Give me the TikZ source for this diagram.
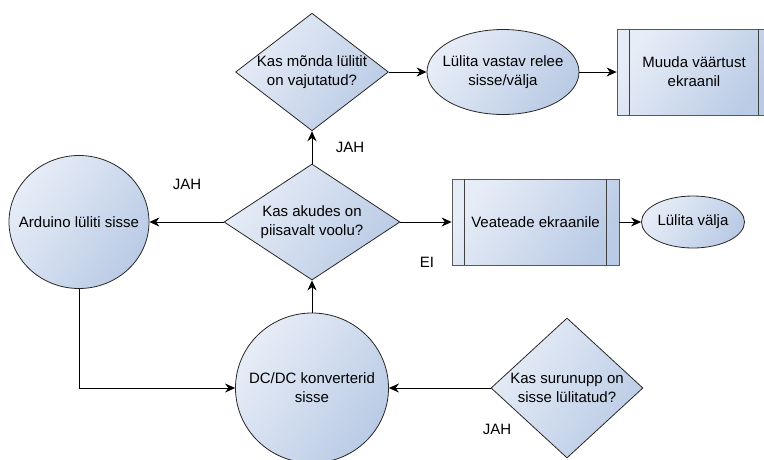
\documentclass[tikz,border=0pt]{standalone}
\usepackage{fontspec}
\setmainfont{Liberation Sans}
\usetikzlibrary{shapes.geometric,arrows.meta}

\definecolor{fillLight}{RGB}{231,237,247}
\definecolor{fillDark}{RGB}{186,203,229}
\definecolor{lineGray}{RGB}{40,40,40}

\begin{document}
\begin{tikzpicture}[x=1pt, y=-1pt, font=\fontsize{15}{19}\selectfont,
	every node/.style={align=center},
	shapebox/.style={draw=lineGray, line width=0.8pt, top color=fillLight, bottom color=fillDark, shading angle=55, inner sep=0pt},
	decision/.style={shapebox, diamond},
	roundbox/.style={shapebox, ellipse, inner xsep=-14pt},
	procbox/.style={shapebox, rectangle, draw=black!65},
	flow/.style={-{Stealth[length=10pt,width=9pt]}, line width=0.9pt}]

	\useasboundingbox (0,0) rectangle (764,459);

	%% The decisions
	\node[decision, aspect=1.3, minimum width=151pt, minimum height=117pt] (q-switch) at (312,72) {Kas mõnda lülitit\\on vajutatud?};
	\node[decision, aspect=1.5, minimum width=176pt, minimum height=116pt] (q-charge) at (312,222) {Kas akudes on\\piisavalt voolu?};
	\node[decision, aspect=1.1, minimum width=152pt, minimum height=140pt] (q-button) at (567,388) {Kas surunupp on\\sisse lülitatud?};

	%% The round steps
	\node[roundbox, minimum width=140pt, minimum height=133pt] (arduino) at (79,222) {Arduino lüliti sisse};
	\node[roundbox, minimum width=153pt, minimum height=150pt] (dcdc) at (312,388) {DC/DC konverterid\\sisse};
	\node[roundbox, minimum width=152pt, minimum height=85pt] (relay) at (503,72) {Lülita vastav relee\\sisse/välja};
	\node[roundbox, minimum width=103pt, minimum height=52pt] (off) at (693,222) {Lülita välja};

	%% The process boxes, with their inner bars
	\node[procbox, minimum width=154pt, minimum height=86pt] (display) at (694,72) {Muuda väärtust\\ekraanil};
	\node[procbox, minimum width=167pt, minimum height=86pt] (error) at (535.5,222) {Veateade ekraanile};
	\foreach \b in {display, error}{%
		\draw[black!75, line width=1.3pt] ([xshift=13pt]\b.north west) -- ([xshift=13pt]\b.south west)
			([xshift=-13pt]\b.north east) -- ([xshift=-13pt]\b.south east);
	}

	%% The connectors
	\draw[flow] (q-charge.west) -- (arduino.east);
	\draw[flow] (q-charge.north) -- (q-switch.south);
	\draw[flow] (q-switch.east) -- (relay.west);
	\draw[flow] (relay.east) -- (display.west);
	\draw[flow] (q-charge.east) -- (error.west);
	\draw[flow] (error.east) -- (off.west);
	\draw[flow] (dcdc.north) -- (q-charge.south);
	\draw[flow] (arduino.south) |- (dcdc.west);
	\draw[flow] (q-button.west) -- (dcdc.east);

	%% The answers
	\node (yes-left) at (187,184) {JAH};
	\node (yes-up) at (350,147) {JAH};
	\node (no-right) at (427,262) {EI};
	\node (yes-button) at (497,429) {JAH};

\end{tikzpicture}
\end{document}
